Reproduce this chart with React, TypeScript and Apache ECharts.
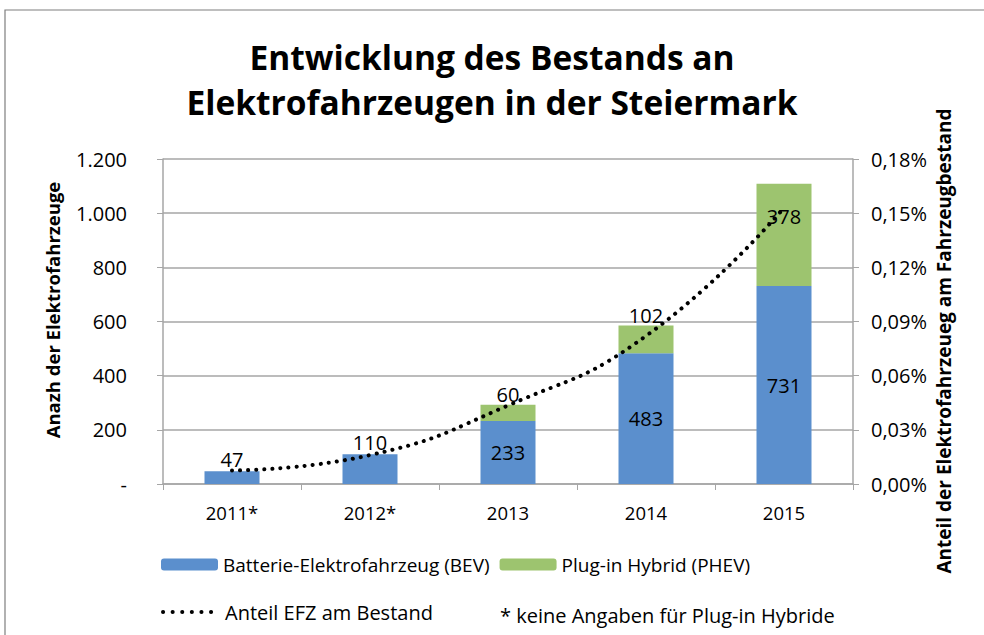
import React, { useEffect, useRef } from "react";
import * as echarts from "echarts";

const categories = ["2011*", "2012*", "2013", "2014", "2015"];
const bevValues = [47, 110, 233, 483, 731];
const phevValues = [null, null, 60, 102, 378];
const shareValues = [0.0075, 0.016, 0.0435, 0.082, 0.153];
const leftTicks = { min: 0, max: 1200, interval: 200 };
const rightTicks = { min: 0, max: 0.18, interval: 0.03 };

const FONT = "Open Sans";
const BLUE = "#5B8FCD";
const GREEN = "#9DC46F";

export default function App() {
  const ref = useRef<HTMLDivElement>(null);
  useEffect(() => {
    if (!ref.current) return;
    const chart = echarts.init(ref.current, null, { renderer: "svg" });
    const bevPos = ["top", "top", "inside", "inside", "inside"];
    const phevPos: any[] = [null, null, ["top", 0], ["top", 0], ["inside", -18]];
    const option: any = {
      animation: false,
      backgroundColor: "#ffffff",
      textStyle: { fontFamily: FONT },
      title: {
        text: "Entwicklung des Bestands an\nElektrofahrzeugen in der Steiermark",
        left: "center",
        top: 29,
        textStyle: { fontFamily: FONT, fontSize: 33.5, fontWeight: "bold", color: "#000", lineHeight: 45 },
      },
      grid: { left: 163, right: 131, top: 159, bottom: 151, containLabel: false },
      legend: [
        {
          data: ["Batterie-Elektrofahrzeug (BEV)", "Plug-in Hybrid (PHEV)"],
          left: 156,
          top: 550,
          itemWidth: 57,
          itemHeight: 12,
          itemGap: 10,
          textStyle: { fontFamily: FONT, fontSize: 19, color: "#000" },
        },
        {
          data: ["Anteil EFZ am Bestand"],
          left: 156,
          top: 597,
          itemWidth: 57,
          itemHeight: 12,
          lineStyle: { width: 4, type: [0.1, 9.5], cap: "round", color: "#000" },
          textStyle: { fontFamily: FONT, fontSize: 20, color: "#000" },
        },
      ],
      xAxis: {
        type: "category",
        data: categories,
        axisLine: { lineStyle: { color: "#a6a6a6", width: 1.5 } },
        axisTick: { show: true, length: 6, lineStyle: { color: "#a6a6a6" } },
        axisLabel: { color: "#000", fontSize: 18.5, fontFamily: FONT, margin: 19 },
      },
      yAxis: [
        {
          type: "value",
          ...leftTicks,
          axisLine: { show: true, lineStyle: { color: "#a6a6a6", width: 1.5 } },
          axisTick: { show: true, length: 6, lineStyle: { color: "#a6a6a6" } },
          splitLine: { lineStyle: { color: "#a6a6a6", width: 1.5 } },
          axisLabel: {
            color: "#000",
            fontSize: 20,
            fontFamily: FONT,
            margin: 36,
            formatter: (v: number) => (v === 0 ? "-" : v.toLocaleString("de-DE")),
          },
        },
        {
          type: "value",
          ...rightTicks,
          position: "right",
          axisLine: { show: true, lineStyle: { color: "#a6a6a6", width: 1.5 } },
          axisTick: { show: true, length: 6, lineStyle: { color: "#a6a6a6" } },
          splitLine: { show: false },
          axisLabel: {
            color: "#000",
            fontSize: 20,
            fontFamily: FONT,
            margin: 18,
            formatter: (v: number) => v.toFixed(2).replace(".", ",") + "%",
          },
        },
      ],
      series: [
        {
          name: "Batterie-Elektrofahrzeug (BEV)",
          type: "bar",
          stack: "efz",
          barWidth: 55,
          itemStyle: { color: BLUE },
          data: bevValues.map((v, i) => ({
            value: v,
            label: {
              show: true,
              position: bevPos[i],
              distance: 2,
              color: "#000",
              fontSize: 20,
              fontFamily: FONT,
            },
          })),
        },
        {
          name: "Plug-in Hybrid (PHEV)",
          type: "bar",
          stack: "efz",
          barWidth: 55,
          itemStyle: { color: GREEN },
          data: phevValues.map((v, i) => {
            const p = phevPos[i];
            return {
              value: v,
              label: p
                ? {
                    show: true,
                    position: p[0],
                    offset: [0, p[1]],
                    distance: 0,
                    color: "#000",
                    fontSize: 20,
                    fontFamily: FONT,
                  }
                : { show: false },
            };
          }),
        },
        {
          name: "Anteil EFZ am Bestand",
          type: "line",
          yAxisIndex: 1,
          smooth: true,
          showSymbol: false,
          symbol: "none",
          symbolSize: 0,
          data: shareValues,
          lineStyle: { color: "#000", width: 4, type: [0.1, 8], cap: "round" },
          itemStyle: { color: "#000", opacity: 0 },
          z: 5,
        },
      ],
      graphic: [
        {
          type: "rect",
          shape: { x: 5, y: 10, width: 1000, height: 700 },
          style: { fill: "none", stroke: "#7f7f7f", lineWidth: 1.2 },
          silent: true,
          z: -1,
        },
        {
          type: "text",
          x: 52,
          y: 310,
          rotation: Math.PI / 2,
          style: {
            text: "Anazh der Elektrofahrzeuge",
            font: "bold 18.5px " + FONT,
            fill: "#000",
            align: "center",
            verticalAlign: "middle",
          },
        },
        {
          type: "text",
          x: 944,
          y: 341,
          rotation: Math.PI / 2,
          style: {
            text: "Anteil der Elektrofahrzeueg am Fahrzeugbestand",
            font: "bold 19px " + FONT,
            fill: "#000",
            align: "center",
            verticalAlign: "middle",
          },
        },
        {
          type: "text",
          x: 500,
          y: 615,
          style: {
            text: "* keine Angaben für Plug-in Hybride",
            font: "20px " + FONT,
            fill: "#000",
            align: "left",
            verticalAlign: "middle",
          },
        },
      ],
    };
    chart.setOption(option);
    return () => chart.dispose();
  }, []);
  return (
    <div
      ref={ref}
      style={{ position: "fixed", left: 0, top: 0, width: 984, height: 635 }}
    />
  );
}
